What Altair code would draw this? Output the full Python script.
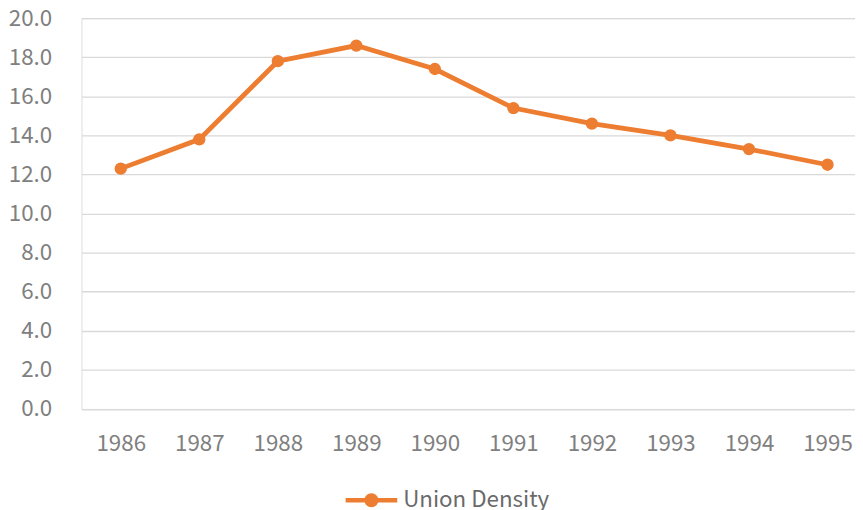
import altair as alt
import pandas as pd

years = [1986, 1987, 1988, 1989, 1990, 1991, 1992, 1993, 1994, 1995]
density = [12.3, 13.8, 17.8, 18.6, 17.4, 15.4, 14.6, 14.0, 13.3, 12.5]
series = ["Union Density"] * len(years)
y_ticks = [0, 2, 4, 6, 8, 10, 12, 14, 16, 18, 20]

df = pd.DataFrame({"year": years, "value": density, "series": series})

ORANGE = "#ED7D31"
FONT = "Noto Sans CJK KR"

legend_shape = ("M-1,-0.09H1V0.09H-1Z "
                "M0.27,0A0.27,0.27 0 1,1 -0.27,0A0.27,0.27 0 1,1 0.27,0Z")

base = alt.Chart(df).encode(
    x=alt.X("year:Q",
            scale=alt.Scale(domain=[1985.5, 1995.35], nice=False, zero=False),
            axis=alt.Axis(values=years, format="d", title=None, grid=False,
                          ticks=False, domain=False, labelPadding=24,
                          labelFontSize=22.5, labelColor="#808080", labelFont=FONT)),
    y=alt.Y("value:Q",
            scale=alt.Scale(domain=[0, 20], nice=False),
            axis=alt.Axis(values=y_ticks, format=".1f", title=None, grid=True,
                          gridColor="#d9d9d9", gridWidth=1.3, ticks=False, domain=False,
                          labelPadding=30, labelFontSize=22.5, labelColor="#808080",
                          labelFont=FONT)),
    color=alt.Color("series:N",
                    scale=alt.Scale(range=[ORANGE]),
                    legend=alt.Legend(title=None, orient="none", direction="horizontal",
                                      legendX=266, legendY=459.5, padding=0,
                                      symbolType=legend_shape, symbolSize=2704,
                                      symbolStrokeWidth=0, symbolFillColor=ORANGE,
                                      labelFontSize=22.5, labelColor="#6a6a6a",
                                      labelFont=FONT, labelOffset=6)),
)

line = base.mark_line(strokeWidth=4.8)
points = base.mark_point(filled=True, size=154, opacity=1)

chart = (line + points).properties(
    width=779, height=393.5,
    autosize=alt.AutoSizeParams(type="none"),
    padding={"left": 74, "top": 8.5, "right": 0, "bottom": 100},
).configure_view(stroke=None).configure(font=FONT)

chart.save("out.html", embed_options={"renderer": "svg", "actions": False})
